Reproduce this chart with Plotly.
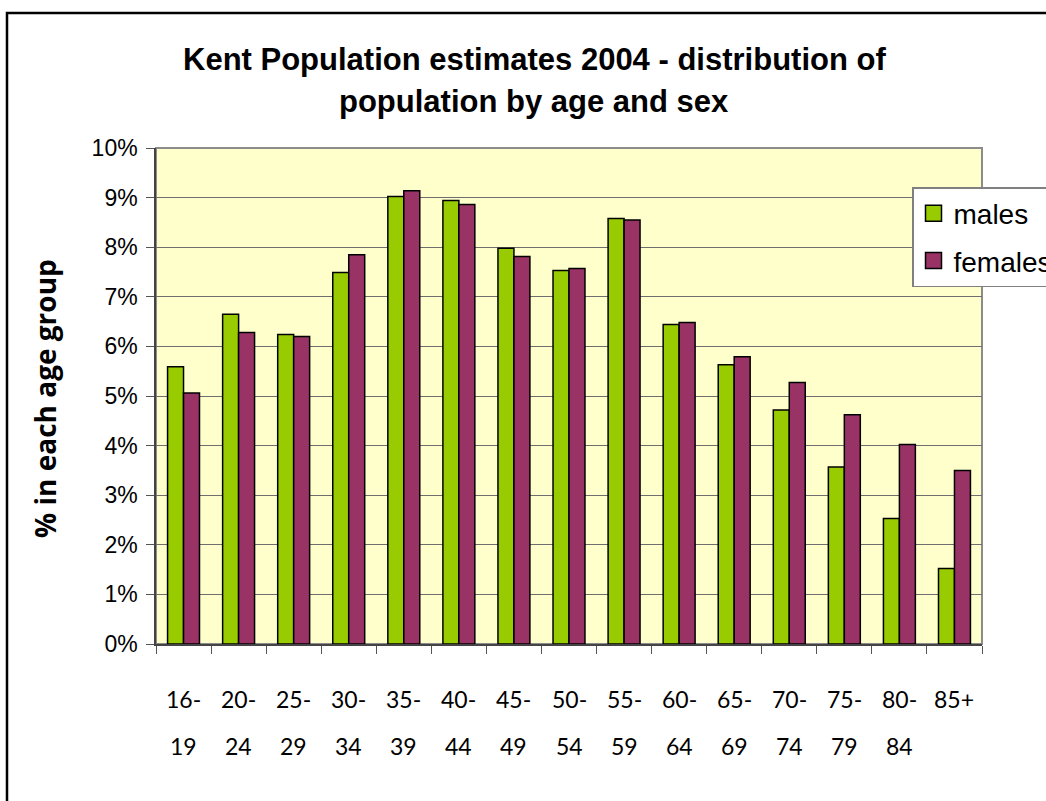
import plotly.graph_objects as go

categories = ["16-19", "20-24", "25-29", "30-34", "35-39", "40-44", "45-49", "50-54",
              "55-59", "60-64", "65-69", "70-74", "75-79", "80-84", "85+"]
tick_line1 = ["16-", "20-", "25-", "30-", "35-", "40-", "45-", "50-",
              "55-", "60-", "65-", "70-", "75-", "80-", "85+"]
tick_line2 = ["19", "24", "29", "34", "39", "44", "49", "54",
              "59", "64", "69", "74", "79", "84", ""]
males = [5.59, 6.65, 6.24, 7.49, 9.02, 8.94, 7.98, 7.53, 8.58, 6.44, 5.63, 4.72, 3.57, 2.53, 1.52]
females = [5.06, 6.28, 6.20, 7.85, 9.14, 8.86, 7.81, 7.57, 8.55, 6.48, 5.79, 5.27, 4.62, 4.02, 3.50]
y_ticks = [0, 1, 2, 3, 4, 5, 6, 7, 8, 9, 10]
y_tick_text = [f"{v}%" for v in y_ticks]
title_lines = ["Kent Population estimates 2004 - distribution of", "population by age and sex"]
series_names = ["males", "females"]
series_colors = ["#99CC00", "#993366"]

W, H = 1046, 801
L, R, T, B = 156, 64, 148, 157
pw, ph = W - L - R, H - T - B

def px_x(p):
    return (p - L) / pw

def px_y(p):
    return (H - B - p) / ph

fig = go.Figure()
for name, vals, col in zip(series_names, [males, females], series_colors):
    fig.add_trace(go.Bar(x=categories, y=vals, name=name, showlegend=False,
                         marker=dict(color=col, line=dict(color="black", width=1.5))))
# legend entries with larger square swatches
for name, col in zip(series_names, series_colors):
    fig.add_trace(go.Scatter(x=[None], y=[None], mode="markers", name=name, legendgroup=name,
                             marker=dict(symbol="square", size=16, color=col,
                                         line=dict(color="black", width=1.5))))

annotations = []
for c, a, b in zip(categories, tick_line1, tick_line2):
    annotations.append(dict(x=c, y=px_y(699), xref="x", yref="paper", text=a, showarrow=False,
                            yanchor="middle", font=dict(family="Lato", size=23, color="black")))
    if b:
        annotations.append(dict(x=c, y=px_y(746), xref="x", yref="paper", text=b, showarrow=False,
                                yanchor="middle", font=dict(family="Lato", size=23, color="black")))

for line, yc in zip(title_lines, [60, 102]):
    annotations.append(dict(x=px_x(534), y=px_y(yc), xref="paper", yref="paper",
                            text=f"<b>{line}</b>", showarrow=False, xanchor="center", yanchor="middle",
                            font=dict(family="Liberation Sans, Arial", size=31, color="black")))

annotations.append(dict(x=px_x(45), y=px_y(399), xref="paper", yref="paper",
                        text="<b>% in each age group</b>", textangle=-90, showarrow=False,
                        xanchor="center", yanchor="middle",
                        font=dict(family="Open Sans", size=28, color="black")))

fig.update_layout(
    width=W, height=H,
    margin=dict(l=L, r=R, t=T, b=B, autoexpand=False),
    paper_bgcolor="white",
    plot_bgcolor="#FFFFCC",
    barmode="group", bargap=0.42, bargroupgap=0,
    font=dict(family="Liberation Sans, Arial", color="black"),
    xaxis=dict(type="category", showticklabels=False, ticks="outside", tickson="boundaries", ticklen=8,
               tickcolor="#555555", showline=True, linecolor="#444444", linewidth=1.5,
               showgrid=False),
    yaxis=dict(range=[0, 10], tickmode="array", tickvals=y_ticks, ticktext=y_tick_text,
               ticks="outside", ticklen=8,
               tickcolor="#555555", showline=True, linecolor="#444444", linewidth=1.5,
               showgrid=True, gridcolor="#6e6e6e", gridwidth=1, zeroline=False,
               tickfont=dict(family="Liberation Sans, Arial", size=23, color="black"),
               ticklabelstandoff=4),
    legend=dict(x=px_x(912), y=px_y(187), xanchor="left", yanchor="top",
                bgcolor="white", bordercolor="#808080", borderwidth=1.5,
                font=dict(family="Liberation Sans, Arial", size=28, color="black"),
                traceorder="grouped", tracegroupgap=8, itemwidth=30),
    annotations=annotations,
    shapes=[
        dict(type="rect", xref="paper", yref="paper", x0=0, x1=1, y0=0, y1=1,
             line=dict(color="#8c8c8c", width=2), layer="below"),
        dict(type="rect", xref="paper", yref="paper", x0=px_x(7), x1=px_x(1100),
             y0=px_y(900), y1=px_y(13), line=dict(color="black", width=2.5)),
    ],
)

fig.write_html("out.html", config={"displayModeBar": False},
               post_script="document.body.style.margin='0';")
